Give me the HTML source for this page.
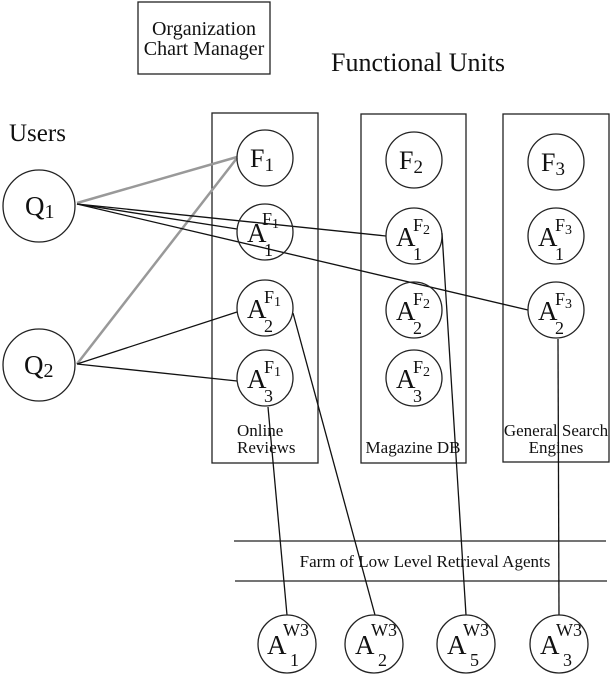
<!DOCTYPE html>
<html><head><meta charset="utf-8"><style>body{margin:0;background:#fff}svg{display:block}text{font-family:"Liberation Serif","Times New Roman",serif;fill:#111}</style></head><body>
<svg width="615" height="674" viewBox="0 0 615 674" xmlns="http://www.w3.org/2000/svg">
<g fill="none" stroke="#222" stroke-width="1.3">
<rect x="138" y="2" width="132" height="72"/>
<rect x="212" y="113" width="106" height="350"/>
<rect x="361" y="114" width="105" height="349"/>
<rect x="503" y="114" width="106" height="348"/>
<line x1="234" y1="541" x2="606" y2="541"/>
<line x1="235" y1="581" x2="607" y2="581"/>
</g>
<g stroke="#999" stroke-width="2.5">
<line x1="77" y1="203" x2="237" y2="157"/>
<line x1="77" y1="364" x2="237" y2="158"/>
</g>
<g stroke="#111" stroke-width="1.3">
<line x1="77" y1="204" x2="237" y2="229"/>
<line x1="77" y1="204" x2="386" y2="236"/>
<line x1="77" y1="204" x2="528" y2="310"/>
<line x1="77" y1="364" x2="237" y2="312"/>
<line x1="77" y1="364" x2="237" y2="381"/>
<line x1="268" y1="407" x2="287" y2="615"/>
<line x1="293" y1="313" x2="375" y2="615"/>
<line x1="442" y1="233" x2="466" y2="615"/>
<line x1="558" y1="339" x2="559" y2="615"/>
</g>
<g fill="none" stroke="#222" stroke-width="1.3">
<circle cx="39" cy="206" r="36"/><circle cx="39" cy="365" r="36"/>
<circle cx="265" cy="158" r="28"/><circle cx="265" cy="232" r="28"/><circle cx="265" cy="308" r="28"/><circle cx="265" cy="378" r="28"/>
<circle cx="414" cy="160" r="28"/><circle cx="414" cy="236" r="28"/><circle cx="414" cy="310" r="28"/><circle cx="414" cy="378" r="28"/>
<circle cx="556" cy="162" r="28"/><circle cx="556" cy="236" r="28"/><circle cx="556" cy="310" r="28"/>
<circle cx="287" cy="644" r="29"/><circle cx="374" cy="644" r="29"/><circle cx="466" cy="644" r="29"/><circle cx="559" cy="644" r="29"/>
</g>
<text x="204" y="35" font-size="20" text-anchor="middle">Organization</text>
<text x="204" y="55" font-size="20" text-anchor="middle">Chart Manager</text>
<text x="331" y="71" font-size="26">Functional Units</text>
<text x="9" y="141" font-size="25">Users</text>
<text x="25" y="215" font-size="27">Q<tspan font-size="20" dy="3">1</tspan></text>
<text x="24" y="374" font-size="27">Q<tspan font-size="20" dy="3">2</tspan></text>
<text x="250" y="167" font-size="26">F<tspan font-size="19" dy="4">1</tspan></text>
<text x="399" y="169" font-size="26">F<tspan font-size="19" dy="4">2</tspan></text>
<text x="541" y="171" font-size="26">F<tspan font-size="19" dy="4">3</tspan></text>
<g font-size="27">
<text x="247" y="242">A</text><text x="262" y="225" font-size="18">F<tspan dy="3" font-size="14">1</tspan></text><text x="264" y="256" font-size="18">1</text>
<text x="247" y="318">A</text><text x="264" y="303" font-size="18">F<tspan dy="3" font-size="14">1</tspan></text><text x="264" y="332" font-size="18">2</text>
<text x="247" y="388">A</text><text x="264" y="373" font-size="18">F<tspan dy="3" font-size="14">1</tspan></text><text x="264" y="402" font-size="18">3</text>
<text x="396" y="246">A</text><text x="413" y="231" font-size="18">F<tspan dy="3" font-size="14">2</tspan></text><text x="413" y="260" font-size="18">1</text>
<text x="396" y="320">A</text><text x="413" y="305" font-size="18">F<tspan dy="3" font-size="14">2</tspan></text><text x="413" y="334" font-size="18">2</text>
<text x="396" y="388">A</text><text x="413" y="373" font-size="18">F<tspan dy="3" font-size="14">2</tspan></text><text x="413" y="402" font-size="18">3</text>
<text x="538" y="246">A</text><text x="555" y="231" font-size="18">F<tspan dy="3" font-size="14">3</tspan></text><text x="555" y="260" font-size="18">1</text>
<text x="538" y="320">A</text><text x="555" y="305" font-size="18">F<tspan dy="3" font-size="14">3</tspan></text><text x="555" y="334" font-size="18">2</text>
<text x="267" y="654">A</text><text x="283" y="636" font-size="18">W3</text><text x="290" y="666" font-size="18">1</text>
<text x="355" y="654">A</text><text x="371" y="636" font-size="18">W3</text><text x="378" y="666" font-size="18">2</text>
<text x="447" y="654">A</text><text x="463" y="636" font-size="18">W3</text><text x="470" y="666" font-size="18">5</text>
<text x="540" y="654">A</text><text x="556" y="636" font-size="18">W3</text><text x="563" y="666" font-size="18">3</text>
</g>
<text x="237" y="436" font-size="17">Online</text>
<text x="237" y="453" font-size="17">Reviews</text>
<text x="413" y="453" font-size="17" text-anchor="middle">Magazine DB</text>
<text x="556" y="436" font-size="17" text-anchor="middle">General Search</text>
<text x="556" y="453" font-size="17" text-anchor="middle">Engines</text>
<text x="425" y="567" font-size="17" text-anchor="middle">Farm of Low Level Retrieval Agents</text>
</svg>
</body></html>
